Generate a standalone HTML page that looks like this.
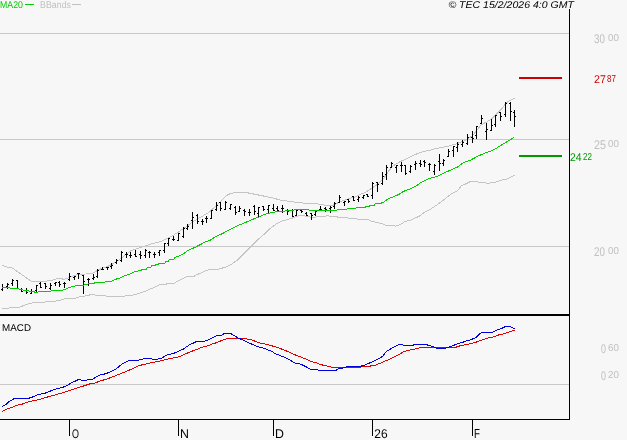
<!DOCTYPE html>
<html><head><meta charset="utf-8"><style>
html,body{margin:0;padding:0;background:#f7f7f7;}
svg{display:block;will-change:transform;}
text{font-family:"Liberation Sans",sans-serif;}
</style></head><body>
<svg width="627" height="440" viewBox="0 0 627 440">
<rect x="0" y="0" width="627" height="440" fill="#f7f7f7"/>
<g shape-rendering="crispEdges" fill="#c8c8c8">
<rect x="0" y="33" width="569" height="1"/>
<rect x="0" y="139" width="569" height="1"/>
<rect x="0" y="246" width="569" height="1"/>
<rect x="0" y="384" width="569" height="1"/>
</g>
<g fill="none" stroke-width="1" shape-rendering="crispEdges">
<polyline points="1.9,265.0 6.2,266.9 12.5,268.1 18.8,272.5 25.0,276.9 31.2,281.2 37.5,281.5 43.0,281.6 47.6,280.9 48.5,280.5 52.4,280.4 53.8,279.5 57.1,278.6 62.0,278.6 62.9,279.3 64.5,279.2 66.7,278.4 68.9,277.6 74.5,275.4 80.1,274.2 85.7,274.0 91.3,273.5 94.6,272.3 97.9,270.1 102.4,268.2 108.0,266.2 113.6,263.4 118.0,260.6 122.5,257.3 125.0,255.2 129.8,251.3 134.6,249.4 139.4,247.8 144.1,246.2 148.9,244.6 153.7,243.4 158.5,242.2 163.3,240.5 167.1,238.4 172.8,235.5 177.6,232.7 180.7,230.3 186.4,226.6 192.0,222.4 197.7,219.0 203.4,215.6 209.1,212.2 213.6,208.2 218.2,203.6 222.7,199.1 227.3,195.1 230.7,193.4 235.0,192.6 238.0,192.3 247.0,192.7 256.0,194.5 265.5,196.4 274.0,198.2 281.0,200.4 288.9,201.2 296.9,202.4 304.9,203.2 310.0,203.2 318.0,204.0 322.8,204.8 329.1,205.7 333.1,205.2 336.3,203.6 340.3,201.6 344.3,200.4 351.0,197.9 355.0,197.2 360.7,194.3 366.4,191.8 372.0,188.1 377.7,184.1 382.3,180.1 385.7,175.6 389.1,170.5 392.5,166.5 397.0,163.4 400.5,161.4 406.1,159.1 410.0,156.8 414.8,154.7 419.6,152.8 424.4,151.3 430.0,150.3 433.0,149.2 437.0,148.5 441.5,147.6 446.0,146.6 450.0,145.7 453.5,144.7 457.0,143.6 460.0,142.4 463.0,141.3 466.0,140.0 469.1,138.0 473.2,134.9 477.3,129.8 480.3,125.7 483.4,123.6 487.5,121.6 491.6,118.7 495.7,114.9 499.8,110.8 503.9,106.2 505.9,103.2 509.0,101.1 512.0,99.6 515.1,98.1" stroke="#c4c4c4"/>
<polyline points="1.9,309.0 7.5,308.1 18.8,307.5 25.0,305.0 31.2,303.1 37.5,302.2 50.0,301.9 55.0,301.2 60.0,300.5 64.5,298.8 75.6,298.2 76.5,297.4 82.3,296.5 88.0,295.4 91.0,294.6 94.5,294.5 95.7,295.5 104.7,295.5 106.9,296.5 123.6,296.5 125.9,295.6 130.0,295.7 134.4,294.6 138.1,293.6 141.0,292.6 144.7,291.5 148.3,289.9 152.0,288.3 155.7,286.6 159.3,284.8 166.0,284.6 166.7,283.6 174.0,283.5 176.0,282.2 180.4,279.7 185.5,277.4 186.3,276.6 193.6,276.5 195.8,275.2 199.5,273.6 203.1,272.0 205.3,270.7 209.0,269.8 217.8,269.6 220.0,268.5 225.0,267.5 231.2,264.4 237.5,260.0 243.8,253.8 251.2,246.2 257.5,240.0 262.5,235.6 265.0,233.5 269.0,229.5 273.0,226.3 277.0,223.5 281.0,221.4 284.9,220.3 288.9,219.1 292.9,217.9 296.9,216.3 300.1,215.2 303.3,215.6 306.5,216.3 310.0,217.1 314.0,217.4 318.0,216.6 322.0,216.3 327.5,215.9 331.5,216.3 335.5,216.7 340.0,217.4 346.7,217.6 349.6,218.4 355.3,218.6 359.1,219.4 367.8,219.5 371.6,221.3 378.3,222.7 383.1,224.1 385.9,225.3 392.6,225.6 395.5,226.2 399.5,224.9 405.2,221.5 410.9,220.0 418.9,216.4 424.5,212.4 431.4,208.6 438.2,204.1 445.0,198.8 451.8,193.6 457.5,190.8 460.9,186.2 465.0,184.2 470.0,181.8 475.5,181.6 480.9,182.5 487.7,183.2 494.6,182.5 500.0,180.5 506.8,179.1 515.0,175.0" stroke="#c4c4c4"/>
</g>
<g fill="#000" shape-rendering="crispEdges">
<rect x="2" y="284" width="1" height="7"/><rect x="1" y="289" width="1" height="1"/><rect x="3" y="287" width="1" height="1"/><rect x="7" y="283" width="1" height="6"/><rect x="6" y="286" width="1" height="1"/><rect x="8" y="284" width="1" height="1"/><rect x="12" y="279" width="1" height="7"/><rect x="11" y="283" width="1" height="1"/><rect x="13" y="280" width="1" height="1"/><rect x="17" y="280" width="1" height="9"/><rect x="16" y="280" width="1" height="1"/><rect x="18" y="288" width="1" height="1"/><rect x="21" y="288" width="1" height="4"/><rect x="20" y="289" width="1" height="1"/><rect x="22" y="291" width="1" height="1"/><rect x="26" y="288" width="1" height="6"/><rect x="25" y="290" width="1" height="1"/><rect x="27" y="292" width="1" height="1"/><rect x="31" y="289" width="1" height="5"/><rect x="30" y="293" width="1" height="1"/><rect x="32" y="291" width="1" height="1"/><rect x="36" y="285" width="1" height="7"/><rect x="35" y="290" width="1" height="1"/><rect x="37" y="285" width="1" height="1"/><rect x="40" y="282" width="1" height="6"/><rect x="39" y="283" width="1" height="1"/><rect x="41" y="287" width="1" height="1"/><rect x="45" y="283" width="1" height="6"/><rect x="44" y="283" width="1" height="1"/><rect x="46" y="286" width="1" height="1"/><rect x="50" y="283" width="1" height="7"/><rect x="49" y="288" width="1" height="1"/><rect x="51" y="285" width="1" height="1"/><rect x="55" y="282" width="1" height="4"/><rect x="54" y="283" width="1" height="1"/><rect x="56" y="282" width="1" height="1"/><rect x="59" y="281" width="1" height="6"/><rect x="58" y="282" width="1" height="1"/><rect x="60" y="284" width="1" height="1"/><rect x="64" y="282" width="1" height="6"/><rect x="63" y="283" width="1" height="1"/><rect x="65" y="283" width="1" height="1"/><rect x="69" y="273" width="1" height="8"/><rect x="68" y="279" width="1" height="1"/><rect x="70" y="276" width="1" height="1"/><rect x="74" y="276" width="1" height="4"/><rect x="73" y="277" width="1" height="1"/><rect x="75" y="276" width="1" height="1"/><rect x="78" y="273" width="1" height="6"/><rect x="77" y="273" width="1" height="1"/><rect x="79" y="273" width="1" height="1"/><rect x="83" y="275" width="1" height="19"/><rect x="82" y="275" width="1" height="1"/><rect x="84" y="281" width="1" height="1"/><rect x="88" y="278" width="1" height="8"/><rect x="87" y="279" width="1" height="1"/><rect x="89" y="279" width="1" height="1"/><rect x="93" y="274" width="1" height="6"/><rect x="92" y="278" width="1" height="1"/><rect x="94" y="277" width="1" height="1"/><rect x="97" y="269" width="1" height="9"/><rect x="96" y="276" width="1" height="1"/><rect x="98" y="270" width="1" height="1"/><rect x="102" y="267" width="1" height="3"/><rect x="101" y="269" width="1" height="1"/><rect x="103" y="269" width="1" height="1"/><rect x="107" y="267" width="1" height="3"/><rect x="106" y="267" width="1" height="1"/><rect x="108" y="267" width="1" height="1"/><rect x="111" y="263" width="1" height="6"/><rect x="110" y="266" width="1" height="1"/><rect x="112" y="265" width="1" height="1"/><rect x="116" y="259" width="1" height="5"/><rect x="115" y="262" width="1" height="1"/><rect x="117" y="260" width="1" height="1"/><rect x="121" y="251" width="1" height="11"/><rect x="120" y="260" width="1" height="1"/><rect x="122" y="252" width="1" height="1"/><rect x="126" y="252" width="1" height="6"/><rect x="125" y="254" width="1" height="1"/><rect x="127" y="254" width="1" height="1"/><rect x="130" y="252" width="1" height="6"/><rect x="129" y="255" width="1" height="1"/><rect x="131" y="255" width="1" height="1"/><rect x="135" y="250" width="1" height="7"/><rect x="134" y="254" width="1" height="1"/><rect x="136" y="256" width="1" height="1"/><rect x="140" y="251" width="1" height="8"/><rect x="139" y="254" width="1" height="1"/><rect x="141" y="255" width="1" height="1"/><rect x="145" y="249" width="1" height="9"/><rect x="144" y="255" width="1" height="1"/><rect x="146" y="250" width="1" height="1"/><rect x="149" y="251" width="1" height="7"/><rect x="148" y="252" width="1" height="1"/><rect x="150" y="252" width="1" height="1"/><rect x="154" y="252" width="1" height="6"/><rect x="153" y="254" width="1" height="1"/><rect x="155" y="254" width="1" height="1"/><rect x="159" y="250" width="1" height="6"/><rect x="158" y="252" width="1" height="1"/><rect x="160" y="250" width="1" height="1"/><rect x="164" y="243" width="1" height="10"/><rect x="163" y="250" width="1" height="1"/><rect x="165" y="243" width="1" height="1"/><rect x="168" y="238" width="1" height="8"/><rect x="167" y="243" width="1" height="1"/><rect x="169" y="238" width="1" height="1"/><rect x="173" y="236" width="1" height="5"/><rect x="172" y="239" width="1" height="1"/><rect x="174" y="239" width="1" height="1"/><rect x="178" y="233" width="1" height="8"/><rect x="177" y="240" width="1" height="1"/><rect x="179" y="233" width="1" height="1"/><rect x="183" y="227" width="1" height="11"/><rect x="182" y="236" width="1" height="1"/><rect x="184" y="228" width="1" height="1"/><rect x="187" y="224" width="1" height="6"/><rect x="186" y="228" width="1" height="1"/><rect x="188" y="226" width="1" height="1"/><rect x="192" y="212" width="1" height="17"/><rect x="191" y="220" width="1" height="1"/><rect x="193" y="217" width="1" height="1"/><rect x="197" y="214" width="1" height="10"/><rect x="196" y="215" width="1" height="1"/><rect x="198" y="221" width="1" height="1"/><rect x="202" y="219" width="1" height="6"/><rect x="201" y="221" width="1" height="1"/><rect x="203" y="221" width="1" height="1"/><rect x="206" y="216" width="1" height="7"/><rect x="205" y="218" width="1" height="1"/><rect x="207" y="218" width="1" height="1"/><rect x="211" y="210" width="1" height="9"/><rect x="210" y="218" width="1" height="1"/><rect x="212" y="210" width="1" height="1"/><rect x="216" y="202" width="1" height="9"/><rect x="215" y="209" width="1" height="1"/><rect x="217" y="205" width="1" height="1"/><rect x="220" y="202" width="1" height="9"/><rect x="219" y="202" width="1" height="1"/><rect x="221" y="208" width="1" height="1"/><rect x="225" y="201" width="1" height="9"/><rect x="224" y="209" width="1" height="1"/><rect x="226" y="202" width="1" height="1"/><rect x="230" y="204" width="1" height="6"/><rect x="229" y="208" width="1" height="1"/><rect x="231" y="204" width="1" height="1"/><rect x="235" y="206" width="1" height="9"/><rect x="234" y="207" width="1" height="1"/><rect x="236" y="212" width="1" height="1"/><rect x="239" y="206" width="1" height="6"/><rect x="238" y="211" width="1" height="1"/><rect x="240" y="208" width="1" height="1"/><rect x="244" y="209" width="1" height="7"/><rect x="243" y="210" width="1" height="1"/><rect x="245" y="211" width="1" height="1"/><rect x="249" y="209" width="1" height="7"/><rect x="248" y="212" width="1" height="1"/><rect x="250" y="212" width="1" height="1"/><rect x="254" y="205" width="1" height="10"/><rect x="253" y="206" width="1" height="1"/><rect x="255" y="211" width="1" height="1"/><rect x="258" y="207" width="1" height="11"/><rect x="257" y="213" width="1" height="1"/><rect x="259" y="207" width="1" height="1"/><rect x="263" y="206" width="1" height="5"/><rect x="262" y="206" width="1" height="1"/><rect x="264" y="209" width="1" height="1"/><rect x="268" y="205" width="1" height="8"/><rect x="267" y="209" width="1" height="1"/><rect x="269" y="205" width="1" height="1"/><rect x="273" y="204" width="1" height="7"/><rect x="272" y="208" width="1" height="1"/><rect x="274" y="210" width="1" height="1"/><rect x="277" y="206" width="1" height="5"/><rect x="276" y="208" width="1" height="1"/><rect x="278" y="210" width="1" height="1"/><rect x="282" y="205" width="1" height="8"/><rect x="281" y="208" width="1" height="1"/><rect x="283" y="208" width="1" height="1"/><rect x="287" y="209" width="1" height="6"/><rect x="286" y="210" width="1" height="1"/><rect x="288" y="211" width="1" height="1"/><rect x="292" y="209" width="1" height="8"/><rect x="291" y="210" width="1" height="1"/><rect x="293" y="216" width="1" height="1"/><rect x="296" y="210" width="1" height="6"/><rect x="295" y="215" width="1" height="1"/><rect x="297" y="210" width="1" height="1"/><rect x="301" y="209" width="1" height="4"/><rect x="300" y="210" width="1" height="1"/><rect x="302" y="211" width="1" height="1"/><rect x="306" y="212" width="1" height="4"/><rect x="305" y="213" width="1" height="1"/><rect x="307" y="215" width="1" height="1"/><rect x="311" y="213" width="1" height="7"/><rect x="310" y="213" width="1" height="1"/><rect x="312" y="215" width="1" height="1"/><rect x="315" y="211" width="1" height="5"/><rect x="314" y="214" width="1" height="1"/><rect x="316" y="211" width="1" height="1"/><rect x="320" y="206" width="1" height="4"/><rect x="319" y="209" width="1" height="1"/><rect x="321" y="209" width="1" height="1"/><rect x="325" y="207" width="1" height="5"/><rect x="324" y="208" width="1" height="1"/><rect x="326" y="209" width="1" height="1"/><rect x="330" y="206" width="1" height="7"/><rect x="329" y="208" width="1" height="1"/><rect x="331" y="207" width="1" height="1"/><rect x="334" y="202" width="1" height="7"/><rect x="333" y="206" width="1" height="1"/><rect x="335" y="203" width="1" height="1"/><rect x="339" y="195" width="1" height="8"/><rect x="338" y="202" width="1" height="1"/><rect x="340" y="197" width="1" height="1"/><rect x="344" y="201" width="1" height="5"/><rect x="343" y="202" width="1" height="1"/><rect x="345" y="201" width="1" height="1"/><rect x="348" y="199" width="1" height="4"/><rect x="347" y="199" width="1" height="1"/><rect x="349" y="201" width="1" height="1"/><rect x="353" y="196" width="1" height="5"/><rect x="352" y="196" width="1" height="1"/><rect x="354" y="200" width="1" height="1"/><rect x="358" y="196" width="1" height="6"/><rect x="357" y="199" width="1" height="1"/><rect x="359" y="197" width="1" height="1"/><rect x="363" y="195" width="1" height="4"/><rect x="362" y="197" width="1" height="1"/><rect x="364" y="195" width="1" height="1"/><rect x="367" y="194" width="1" height="3"/><rect x="366" y="194" width="1" height="1"/><rect x="368" y="196" width="1" height="1"/><rect x="372" y="182" width="1" height="17"/><rect x="371" y="195" width="1" height="1"/><rect x="373" y="183" width="1" height="1"/><rect x="377" y="182" width="1" height="10"/><rect x="376" y="182" width="1" height="1"/><rect x="378" y="184" width="1" height="1"/><rect x="382" y="172" width="1" height="13"/><rect x="381" y="183" width="1" height="1"/><rect x="383" y="176" width="1" height="1"/><rect x="386" y="165" width="1" height="15"/><rect x="385" y="174" width="1" height="1"/><rect x="387" y="167" width="1" height="1"/><rect x="391" y="162" width="1" height="6"/><rect x="390" y="167" width="1" height="1"/><rect x="392" y="163" width="1" height="1"/><rect x="396" y="165" width="1" height="8"/><rect x="395" y="167" width="1" height="1"/><rect x="397" y="165" width="1" height="1"/><rect x="401" y="162" width="1" height="10"/><rect x="400" y="165" width="1" height="1"/><rect x="402" y="165" width="1" height="1"/><rect x="405" y="165" width="1" height="10"/><rect x="404" y="165" width="1" height="1"/><rect x="406" y="173" width="1" height="1"/><rect x="410" y="165" width="1" height="8"/><rect x="409" y="171" width="1" height="1"/><rect x="411" y="166" width="1" height="1"/><rect x="415" y="161" width="1" height="9"/><rect x="414" y="164" width="1" height="1"/><rect x="416" y="163" width="1" height="1"/><rect x="420" y="160" width="1" height="7"/><rect x="419" y="163" width="1" height="1"/><rect x="421" y="164" width="1" height="1"/><rect x="424" y="160" width="1" height="7"/><rect x="423" y="161" width="1" height="1"/><rect x="425" y="162" width="1" height="1"/><rect x="429" y="163" width="1" height="8"/><rect x="428" y="164" width="1" height="1"/><rect x="430" y="164" width="1" height="1"/><rect x="434" y="164" width="1" height="11"/><rect x="433" y="171" width="1" height="1"/><rect x="435" y="165" width="1" height="1"/><rect x="439" y="154" width="1" height="17"/><rect x="438" y="161" width="1" height="1"/><rect x="440" y="163" width="1" height="1"/><rect x="443" y="159" width="1" height="7"/><rect x="442" y="163" width="1" height="1"/><rect x="444" y="160" width="1" height="1"/><rect x="448" y="149" width="1" height="8"/><rect x="447" y="156" width="1" height="1"/><rect x="449" y="151" width="1" height="1"/><rect x="453" y="146" width="1" height="11"/><rect x="452" y="150" width="1" height="1"/><rect x="454" y="146" width="1" height="1"/><rect x="457" y="142" width="1" height="10"/><rect x="456" y="147" width="1" height="1"/><rect x="458" y="144" width="1" height="1"/><rect x="462" y="140" width="1" height="7"/><rect x="461" y="144" width="1" height="1"/><rect x="463" y="142" width="1" height="1"/><rect x="467" y="134" width="1" height="11"/><rect x="466" y="143" width="1" height="1"/><rect x="468" y="137" width="1" height="1"/><rect x="472" y="131" width="1" height="12"/><rect x="471" y="137" width="1" height="1"/><rect x="473" y="138" width="1" height="1"/><rect x="476" y="126" width="1" height="13"/><rect x="475" y="135" width="1" height="1"/><rect x="477" y="126" width="1" height="1"/><rect x="481" y="115" width="1" height="9"/><rect x="480" y="123" width="1" height="1"/><rect x="482" y="118" width="1" height="1"/><rect x="486" y="123" width="1" height="17"/><rect x="485" y="131" width="1" height="1"/><rect x="487" y="129" width="1" height="1"/><rect x="491" y="119" width="1" height="12"/><rect x="490" y="130" width="1" height="1"/><rect x="492" y="125" width="1" height="1"/><rect x="495" y="115" width="1" height="12"/><rect x="494" y="124" width="1" height="1"/><rect x="496" y="115" width="1" height="1"/><rect x="500" y="112" width="1" height="9"/><rect x="499" y="112" width="1" height="1"/><rect x="501" y="116" width="1" height="1"/><rect x="505" y="102" width="1" height="15"/><rect x="504" y="114" width="1" height="1"/><rect x="506" y="103" width="1" height="1"/><rect x="510" y="102" width="1" height="19"/><rect x="509" y="103" width="1" height="1"/><rect x="511" y="111" width="1" height="1"/><rect x="514" y="110" width="1" height="17"/><rect x="513" y="112" width="1" height="1"/><rect x="515" y="116" width="1" height="1"/>
</g>
<g fill="none" stroke-width="1" shape-rendering="crispEdges">
<polyline points="1.5,287.5 9.8,287.5 10.2,288.5 18.0,288.5 20.0,289.4 23.5,290.2 28.0,290.9 32.0,291.5 35.5,292.2 37.5,292.4 38.5,291.6 45.0,291.5 50.0,291.3 53.2,290.5 62.0,290.2 66.0,289.0 69.1,287.4 76.3,285.8 83.5,285.2 87.5,284.2 90.0,283.5 94.5,283.4 95.0,282.5 104.7,282.4 105.4,281.5 112.0,281.2 114.5,279.6 119.0,278.3 123.0,276.5 126.7,275.2 130.7,273.6 134.6,271.6 137.7,271.5 138.4,270.5 141.3,270.4 142.0,269.5 146.5,269.4 147.2,267.5 150.9,267.4 151.6,265.6 155.3,265.5 156.0,264.3 158.2,264.2 159.0,263.5 164.8,263.3 165.5,261.6 168.5,261.5 169.2,259.5 173.6,259.3 175.0,257.6 180.6,255.2 184.4,253.0 187.3,251.0 190.5,249.4 194.7,247.5 202.0,243.7 205.7,241.5 209.3,240.8 216.7,236.0 222.0,233.8 229.3,229.7 236.7,226.1 244.0,223.1 251.3,219.8 258.7,217.2 262.5,215.2 267.3,213.6 271.2,212.6 275.0,212.4 275.3,211.5 285.0,211.4 285.3,210.5 293.8,210.4 294.2,209.5 300.9,209.5 308.6,209.6 309.5,210.3 320.0,210.5 336.0,210.3 337.5,209.7 340.0,209.5 346.6,209.4 347.2,208.5 355.8,208.5 356.3,207.5 365.0,207.5 365.5,206.5 369.0,206.4 369.6,205.5 374.5,205.4 375.2,203.8 381.0,203.5 381.8,202.5 384.0,202.3 385.5,200.8 388.2,198.9 391.1,197.7 394.1,196.5 397.0,195.2 400.0,193.8 402.9,191.7 405.8,190.5 410.2,188.9 414.6,186.8 419.0,184.2 420.0,183.2 424.4,180.7 428.8,178.8 433.2,177.4 437.6,176.3 442.0,174.2 446.4,172.0 450.8,170.0 455.2,168.1 458.1,166.7 461.1,164.2 464.0,162.5 467.5,161.2 470.0,160.5 474.4,158.0 478.8,155.8 484.7,153.2 489.1,151.6 492.0,150.8 495.7,148.6 499.3,146.4 503.0,144.1 506.7,141.9 510.4,139.7 514.3,137.4" stroke="#00cc00"/>
<polyline points="2.2,411.3 6.0,409.5 9.5,408.2 13.0,407.0 17.3,405.2 21.6,404.4 25.9,402.6 30.2,401.3 34.5,400.5 38.9,399.6 43.2,398.3 47.5,397.0 51.9,395.8 58.0,394.1 62.3,392.8 66.6,391.5 70.9,390.2 75.2,388.5 79.5,387.2 83.9,385.9 88.2,384.4 90.8,383.6 93.6,383.4 97.3,382.1 101.8,380.5 105.5,379.4 109.1,378.2 112.7,376.8 117.3,375.0 121.8,373.2 126.4,371.4 130.9,369.4 135.0,367.5 138.6,365.9 143.2,364.5 147.7,363.6 153.2,362.3 157.7,361.4 162.3,360.5 166.8,359.3 171.4,358.4 175.9,357.5 180.2,356.4 184.0,354.5 188.0,352.8 192.0,351.2 196.0,349.7 199.9,348.1 203.9,346.7 207.9,345.9 211.9,344.1 215.9,342.9 219.9,341.3 223.9,339.4 227.8,338.5 233.0,338.2 246.5,338.4 247.3,339.2 251.3,339.6 252.9,340.4 256.9,342.0 260.9,343.2 264.9,344.0 268.9,344.9 272.8,346.1 278.0,347.6 282.0,349.2 286.0,350.8 289.9,352.4 293.9,354.4 297.9,355.9 301.9,357.5 305.9,359.1 309.9,360.9 313.9,362.3 317.4,363.2 319.8,364.4 323.8,365.3 328.6,366.5 332.5,367.4 360.5,367.4 362.4,366.3 369.6,366.3 372.0,365.5 375.9,365.0 379.9,363.4 383.9,361.5 387.9,359.9 391.9,357.9 395.9,355.9 399.9,353.9 403.9,351.6 407.8,350.6 410.0,350.1 413.0,349.4 417.8,348.3 422.1,347.3 455.6,347.4 458.0,346.3 462.0,345.5 465.9,344.7 469.9,343.7 473.9,342.9 477.9,341.5 481.9,340.2 485.9,338.6 489.9,337.6 492.0,337.4 494.9,336.5 497.6,335.5 499.8,334.4 502.5,334.3 504.7,333.5 507.5,332.6 509.6,331.5 511.8,331.1 512.9,330.5 514.8,330.4" stroke="#dd0000"/>
<polyline points="2.2,406.3 6.0,404.4 9.5,401.3 13.0,399.2 15.5,398.3 28.5,398.3 32.0,397.3 35.4,395.7 38.9,394.4 43.2,393.6 45.0,393.2 49.3,391.5 53.6,389.8 58.0,388.3 62.3,387.5 66.6,385.7 70.9,383.1 75.2,381.2 78.7,379.4 80.4,379.4 82.1,380.6 85.6,380.6 88.2,379.4 92.7,379.4 95.5,377.3 99.1,375.5 101.8,374.3 105.5,373.9 109.1,372.3 112.7,370.6 115.5,369.4 119.1,366.4 122.7,363.6 127.3,361.4 129.1,360.5 137.3,360.5 139.5,360.0 144.1,358.6 151.4,358.6 153.2,359.5 156.8,359.3 161.4,358.4 163.2,357.3 166.8,355.0 169.5,354.4 174.1,353.2 177.7,351.6 180.0,350.5 183.2,349.3 186.4,346.9 188.8,345.3 192.0,343.7 196.0,341.7 203.1,341.6 206.3,340.6 209.5,339.4 213.5,337.4 216.7,335.4 221.5,335.2 224.7,333.4 230.6,333.4 233.0,334.8 237.0,337.4 241.0,339.2 244.9,340.8 248.9,342.8 252.9,344.7 256.9,346.3 260.9,347.5 264.9,348.7 268.9,350.2 272.4,351.6 275.6,354.0 278.0,354.5 282.0,356.3 286.0,357.9 289.9,359.9 293.9,362.7 296.3,363.5 298.7,363.5 301.9,364.7 305.9,366.7 309.9,369.1 312.3,369.7 317.8,369.5 318.2,370.6 335.7,370.6 337.3,369.3 338.9,368.5 342.1,368.3 346.9,366.6 360.5,366.6 362.0,365.6 364.8,365.1 368.0,363.7 372.0,361.9 375.9,359.9 379.9,358.1 383.1,355.9 384.7,353.6 387.1,350.8 390.3,349.2 393.5,347.2 396.7,345.6 399.9,344.4 402.3,344.4 403.9,345.6 413.0,345.6 413.8,344.4 426.5,344.4 428.1,345.4 430.5,345.6 432.1,346.4 436.9,348.3 445.7,348.3 446.5,347.6 450.3,346.6 453.2,345.5 456.4,344.3 459.6,343.1 462.8,342.3 465.9,341.0 469.1,340.2 472.3,339.1 476.3,337.3 478.7,334.8 481.5,332.4 492.2,332.5 493.8,331.4 496.0,330.4 498.7,329.5 501.5,328.4 503.6,327.5 505.3,326.5 510.2,326.5 511.8,327.4 514.0,328.4 514.8,328.5" stroke="#0000dd"/>
</g>
<g shape-rendering="crispEdges" fill="#000">
<rect x="569" y="9" width="1" height="411"/>
<rect x="0" y="314" width="570" height="2"/>
<rect x="0" y="419" width="570" height="1"/>
<rect x="69" y="419" width="1" height="17"/>
<rect x="178" y="419" width="1" height="17"/>
<rect x="273" y="419" width="1" height="17"/>
<rect x="372" y="419" width="1" height="17"/>
<rect x="472" y="419" width="1" height="17"/>
<rect x="519" y="77" width="43" height="2" fill="#cc0000"/>
<rect x="519" y="155" width="43" height="2" fill="#009900"/>
<rect x="25" y="4" width="9" height="1" fill="#00cc00"/>
<rect x="72" y="4" width="9" height="1" fill="#c0c0c0"/>
</g>
<text transform="translate(0.00,8.00) skewX(0.5)" font-size="9.80" fill="#00cc00" textLength="23.00" lengthAdjust="spacingAndGlyphs">MA20</text>
<text transform="translate(40.00,8.00) skewX(0.5)" font-size="9.80" fill="#c0c0c0" textLength="31.00" lengthAdjust="spacingAndGlyphs">BBands</text>
<text transform="translate(448.40,8.00) skewX(0.5)" font-size="9.80" fill="#000" font-style="italic" textLength="125.60" lengthAdjust="spacingAndGlyphs">© TEC 15/2/2026 4:0 GMT</text>
<text transform="translate(2.00,331.00) skewX(0.5)" font-size="9.80" fill="#000" textLength="29.00" lengthAdjust="spacingAndGlyphs">MACD</text>
<text transform="translate(72.00,438.00) skewX(0.5)" font-size="12.60" fill="#000" textLength="7.00" lengthAdjust="spacingAndGlyphs">O</text>
<text transform="translate(180.00,438.00) skewX(0.5)" font-size="12.60" fill="#000" textLength="9.00" lengthAdjust="spacingAndGlyphs">N</text>
<text transform="translate(275.00,438.00) skewX(0.5)" font-size="12.60" fill="#000" textLength="9.00" lengthAdjust="spacingAndGlyphs">D</text>
<text transform="translate(374.30,438.00) skewX(0.5)" font-size="12.60" fill="#000" textLength="13.40" lengthAdjust="spacingAndGlyphs">26</text>
<text transform="translate(474.00,438.00) skewX(0.5)" font-size="13.25" fill="#000" textLength="6.00" lengthAdjust="spacingAndGlyphs">F</text>
<text transform="translate(594.00,43.00) skewX(0.5)" font-size="12.60" fill="#c0c0c0" textLength="11.00" lengthAdjust="spacingAndGlyphs">30</text>
<text transform="translate(608.00,41.00) skewX(0.5)" font-size="10.05" fill="#c0c0c0" textLength="11.00" lengthAdjust="spacingAndGlyphs">00</text>
<text transform="translate(594.00,149.00) skewX(0.5)" font-size="12.60" fill="#c0c0c0" textLength="12.00" lengthAdjust="spacingAndGlyphs">25</text>
<text transform="translate(608.00,147.00) skewX(0.5)" font-size="10.05" fill="#c0c0c0" textLength="11.00" lengthAdjust="spacingAndGlyphs">00</text>
<text transform="translate(594.00,256.00) skewX(0.5)" font-size="12.60" fill="#c0c0c0" textLength="11.00" lengthAdjust="spacingAndGlyphs">20</text>
<text transform="translate(608.00,254.00) skewX(0.5)" font-size="10.05" fill="#c0c0c0" textLength="11.00" lengthAdjust="spacingAndGlyphs">00</text>
<text transform="translate(601.00,353.00) skewX(0.5)" font-size="12.60" fill="#c0c0c0" textLength="5.00" lengthAdjust="spacingAndGlyphs">0</text>
<text transform="translate(608.00,351.00) skewX(0.5)" font-size="10.05" fill="#c0c0c0" textLength="11.00" lengthAdjust="spacingAndGlyphs">60</text>
<text transform="translate(601.00,380.00) skewX(0.5)" font-size="12.60" fill="#c0c0c0" textLength="5.00" lengthAdjust="spacingAndGlyphs">0</text>
<text transform="translate(608.00,378.00) skewX(0.5)" font-size="10.05" fill="#c0c0c0" textLength="11.00" lengthAdjust="spacingAndGlyphs">20</text>
<text transform="translate(594.00,83.00) skewX(0.5)" font-size="11.20" fill="#cc0000" textLength="12.00" lengthAdjust="spacingAndGlyphs">27</text>
<text transform="translate(607.00,82.00) skewX(0.5)" font-size="10.05" fill="#cc0000" textLength="9.00" lengthAdjust="spacingAndGlyphs">87</text>
<text transform="translate(570.00,161.00) skewX(0.5)" font-size="11.20" fill="#009900" textLength="11.70" lengthAdjust="spacingAndGlyphs">24</text>
<text transform="translate(583.00,160.00) skewX(0.5)" font-size="10.05" fill="#009900" textLength="9.00" lengthAdjust="spacingAndGlyphs">22</text>
</svg>
</body></html>
